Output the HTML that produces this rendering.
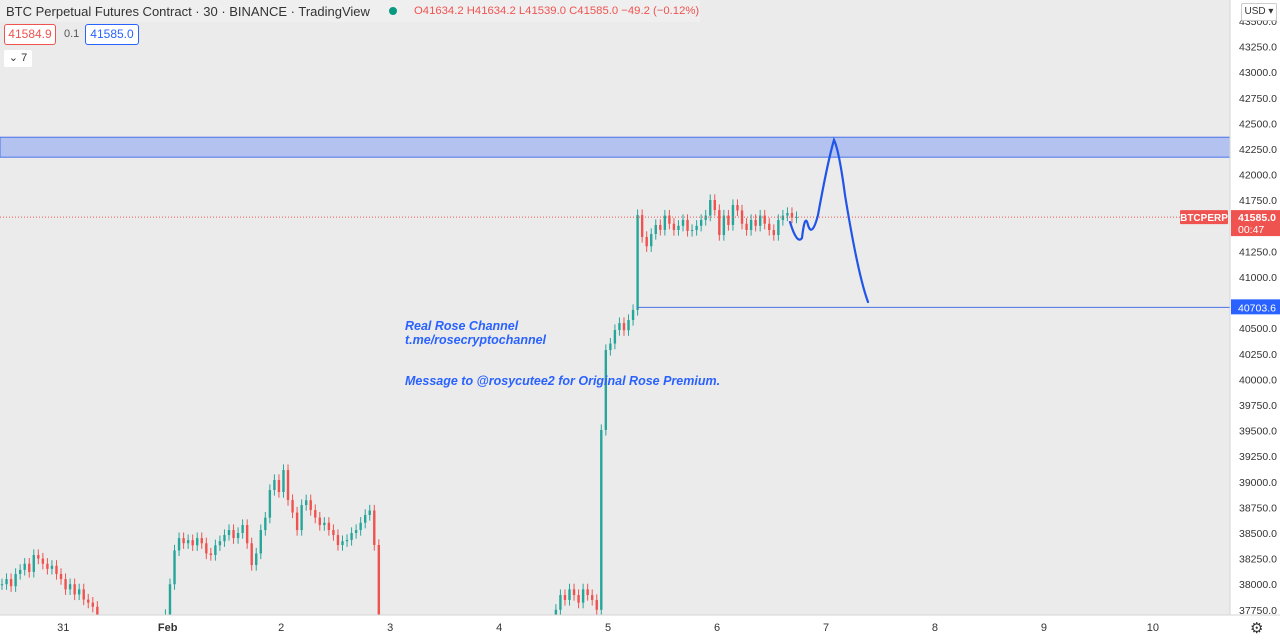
<!DOCTYPE html>
<html><head><meta charset="utf-8"><style>
body{margin:0;width:1280px;height:642px;overflow:hidden;background:#ebebeb;font-family:"Liberation Sans",sans-serif}
svg{display:block}
</style></head><body>
<svg id="c" width="1280" height="642">
<rect x="0" y="0" width="1230" height="615" fill="#ebebeb"/>
<defs><clipPath id="clip"><rect x="0" y="0" width="1230" height="615"/></clipPath></defs>
<g id="zone"></g>
<g id="candles" clip-path="url(#clip)"></g>
<g id="ann"></g>
<rect x="1230" y="0" width="50" height="642" fill="#ffffff"/>
<line x1="1230" y1="0" x2="1230" y2="615" stroke="#d6d6d6"/>
<rect x="0" y="615" width="1230" height="27" fill="#ffffff"/>
<line x1="0" y1="615" x2="1280" y2="615" stroke="#d6d6d6"/>
<g id="yt"></g>
<g id="xt"></g>
<g id="labels"></g>
</svg>
<div style="position:absolute;left:0;top:0;height:22px;width:700px;background:#f0f0f0;opacity:.9"></div>
<div style="position:absolute;left:6px;top:4px;font-size:13px;color:#333">BTC Perpetual Futures Contract · 30 · BINANCE · TradingView</div>
<div style="position:absolute;left:389px;top:7px;width:8px;height:8px;border-radius:50%;background:#089981"></div>
<div style="position:absolute;left:414px;top:5px;font-size:11.3px;color:#ef5350">O41634.2 H41634.2 L41539.0 C41585.0 −49.2 (−0.12%)</div>
<div style="position:absolute;left:4px;top:24px;width:50px;height:19px;border:1px solid #ef5350;border-radius:3px;background:#fff;color:#ef5350;font-size:12px;line-height:19px;text-align:center">41584.9</div>
<div style="position:absolute;left:64px;top:28px;font-size:11px;color:#555">0.1</div>
<div style="position:absolute;left:85px;top:24px;width:52px;height:19px;border:1px solid #2962ff;border-radius:3px;background:#fff;color:#2962ff;font-size:12px;line-height:19px;text-align:center">41585.0</div>
<div style="position:absolute;left:4px;top:50px;width:28px;height:17px;background:#fff;border-radius:2px;font-size:11px;line-height:17px;text-align:center;color:#333">⌄ 7</div>
<div style="position:absolute;left:1241px;top:3px;width:34px;height:16px;background:#fff;border:1px solid #ccc;border-radius:2px;font-size:10px;line-height:16px;text-align:center;color:#333">USD ▾</div>
<div style="position:absolute;left:1250px;top:619px;font-size:15px;color:#333">⚙</div>
<script>
const closes=[38000,38050,37980,38100,38140,38200,38120,38285,38250,38200,38150,38180,38100,38050,37950,38000,37900,37950,37850,37820,37780,37600,
37400,37400,37400,37400,37400,37400,37400,37400,37400,37400,37400,37400,37400,37400,
37700,38000,38330,38450,38400,38430,38380,38450,38400,38300,38285,38380,38420,38480,38529,38450,38500,38578,38400,38187,38300,38529,38650,38920,39018,38900,39115,38822,38700,38529,38773,38820,38724,38650,38578,38600,38529,38480,38383,38420,38432,38500,38529,38600,38676,38720,38383,37600,
37400,37400,37400,37400,37400,37400,37400,37400,37400,37400,37400,37400,37400,37400,37400,37400,37400,37400,37400,37400,37400,37400,37400,37400,37400,37400,37400,37400,37400,37400,37400,37400,37400,37400,37400,37400,37400,37400,
37750,37894,37846,37950,37894,37820,37950,37894,37846,37750,39506,40287,40350,40482,40550,40480,40580,40678,41605,41391,41300,41420,41508,41460,41600,41520,41459,41500,41557,41450,41459,41500,41557,41600,41752,41654,41410,41600,41508,41703,41650,41520,41459,41557,41500,41600,41520,41459,41410,41557,41600,41625,41580,41585];
const priceTicks=[43500,43250,43000,42750,42500,42250,42000,41750,41250,41000,40750,40500,40250,40000,39750,39500,39250,39000,38750,38500,38250,38000,37750];
const dayLabels=["31","Feb","2","3","4","5","6","7","8","9","10"];
const dayIndex=[13.5,36.5,61.5,85.5,109.5,133.5,157.5,181.5,205.5,229.5,253.5];
const zoneTop=42365, zoneBottom=42170, supportLevel=40703.6, lastPrice=41585.0;
const wick=55;
const NS="http://www.w3.org/2000/svg";
function y(p){return 149+(42250-p)*0.1024;}
function x(i){return 2+i*4.54;}
function mk(tag,attrs,parent,text){const e=document.createElementNS(NS,tag);for(const k in attrs)e.setAttribute(k,attrs[k]);if(text!==undefined)e.textContent=text;parent.appendChild(e);return e;}
const cg=document.getElementById('candles');
for(let i=0;i<closes.length;i++){
 const c=closes[i],o=i>0?closes[i-1]:c;const up=c>=o;const col=up?'#26a69a':'#ef5350';
 const w=mk('line',{x1:x(i),x2:x(i),y1:y(Math.max(o,c)+wick),y2:y(Math.min(o,c)-wick),stroke:col,'stroke-width':1},cg);
 
 
 const top=y(Math.max(o,c)),h=Math.max(1,y(Math.min(o,c))-top);
 const b=mk('rect',{x:x(i)-1.2,y:top,width:2.4,height:h,fill:col},cg);
 
 
}
const zg=document.getElementById('zone');
mk('rect',{x:0,y:y(zoneTop),width:1230,height:y(zoneBottom)-y(zoneTop),fill:'#b3c2ef',stroke:'#4a72e8','stroke-width':1},zg);
const ag=document.getElementById('ann');
const pl=mk('line',{x1:0,x2:1230,y1:y(lastPrice),y2:y(lastPrice),stroke:'#ef5350','stroke-dasharray':'1 2'},ag);


const sl=mk('line',{x1:637,x2:1230,y1:y(supportLevel),y2:y(supportLevel),stroke:'#4a72e8','stroke-width':1},ag);


const path=mk('path',{d:'M790 222 Q797 245 802 238 Q805 212 808 225 Q812 238 818 215 Q828 160 834 140 Q839 150 845 195 Q858 275 868 302',fill:'none',stroke:'#2155e8','stroke-width':2.2,'stroke-linecap':'round'},ag);


const ts={fill:'#2962ff','font-size':12.5,'font-weight':'bold','font-style':'italic','font-family':'"Liberation Sans",sans-serif'};
const t1=mk('text',Object.assign({x:405,y:330},ts),ag,'Real Rose Channel');
const t2=mk('text',Object.assign({x:405,y:344},ts),ag,'t.me/rosecryptochannel');
const t3=mk('text',Object.assign({x:405,y:385},ts),ag,'Message to @rosycutee2 for Original Rose Premium.');
const yg=document.getElementById('yt');
priceTicks.forEach(p=>{const t=mk('text',{x:1239,y:y(p)+4,'font-size':10.5,fill:'#333'},yg,p.toFixed(1));});
const xg=document.getElementById('xt');
dayLabels.forEach((d,k)=>{const t=mk('text',{x:x(dayIndex[k]),y:631,'font-size':11,fill:'#333','text-anchor':'middle','font-weight':d==='Feb'?'bold':'normal'},xg,d);});
const lg=document.getElementById('labels');
const r1=mk('rect',{x:1180,y:y(lastPrice)-7,width:48,height:14,fill:'#ef5350',rx:1},lg);
mk('text',{x:1204,y:y(lastPrice)+4,'font-size':10,fill:'#fff','text-anchor':'middle','font-weight':'bold'},lg,'BTCPERP');
const r2=mk('rect',{x:1231,y:y(lastPrice)-7,width:49,height:26,fill:'#ef5350'},lg);
mk('text',{x:1238,y:y(lastPrice)+4,'font-size':10.5,fill:'#fff','font-weight':'bold'},lg,lastPrice.toFixed(1));
mk('text',{x:1238,y:y(lastPrice)+16,'font-size':10.5,fill:'#fff'},lg,'00:47');
const r3=mk('rect',{x:1231,y:y(supportLevel)-8,width:49,height:15,fill:'#2962ff'},lg);
mk('text',{x:1238,y:y(supportLevel)+4,'font-size':10.5,fill:'#fff'},lg,supportLevel.toFixed(1));
</script>
</body></html>
